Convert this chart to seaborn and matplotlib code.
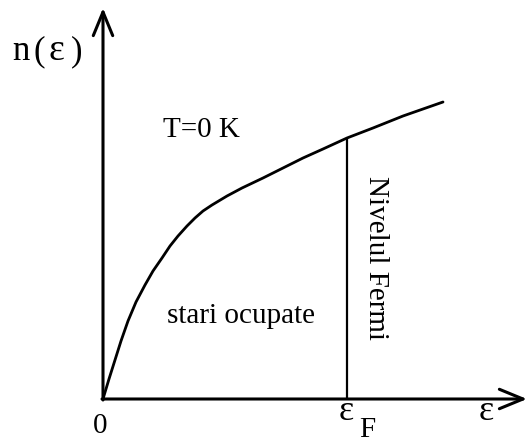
import numpy as np
import pandas as pd
import seaborn as sns
import matplotlib
matplotlib.use("Agg")
import matplotlib.pyplot as plt

# Density of occupied states n(eps) at T = 0 K (arbitrary units)
eps = [0, 6, 12, 18, 25, 33, 42, 50, 59, 67, 75, 84, 92, 100, 109, 124, 139,
       160, 180, 200, 220, 244, 270, 300, 340]
n_eps = [0, 20, 39, 58, 78, 97, 114, 128, 141, 153, 163, 173, 181, 188, 194,
         203, 211, 221, 231, 241, 250, 261, 271, 283, 297]
eps_F = 244
n_F = 261
x_max = 424
y_max = 391

labels = {
    "yaxis_n": "n",
    "yaxis_open": "(",
    "yaxis_eps": "ε",
    "yaxis_close": ")",
    "temp": "T=0 K",
    "occupied": "stari ocupate",
    "fermi": "Nivelul Fermi",
    "zero": "0",
    "epsF": "ε",
    "epsF_sub": "F",
    "xaxis": "ε",
}

sns.set_theme(style="white")
plt.rcParams["font.family"] = ["Liberation Serif", "DejaVu Serif"]
plt.rcParams["text.color"] = "black"

fig = plt.figure(figsize=(5.28, 4.43), dpi=100)
ax = fig.add_axes([0, 0, 1, 1])
ax.set_xlim(-103, 425)
ax.set_ylim(-44, 399)
ax.axis("off")

df = pd.DataFrame({"eps": eps, "n": n_eps})
sns.lineplot(data=df, x="eps", y="n", sort=False, estimator=None,
             color="black", lw=2.0, ax=ax)

ax.plot([eps_F, eps_F], [0, n_F], color="black", lw=1.6, solid_capstyle="butt")

arrow = dict(arrowstyle="->,head_length=1.7,head_width=0.7", lw=2.2,
             color="black", mutation_scale=10, shrinkA=0, shrinkB=0)
ax.annotate("", xy=(x_max, 0), xytext=(-1, 0), arrowprops=arrow)
ax.annotate("", xy=(0, y_max), xytext=(0, -1), arrowprops=arrow)

fs = 21
k = dict(color="black", va="baseline", ha="center")
ax.text(-82, 339, labels["yaxis_n"], fontsize=25, **k)
ax.text(-64, 339, labels["yaxis_open"], fontsize=25, **k)
ax.text(-47, 339, labels["yaxis_eps"], fontsize=27, **k)
ax.text(-26, 339, labels["yaxis_close"], fontsize=25, **k)
ax.text(60, 262, labels["temp"], fontsize=fs, color="black", ha="left", va="baseline")
ax.text(64, 76, labels["occupied"], fontsize=fs, color="black", ha="left", va="baseline")
ax.text(273, 141, labels["fermi"], fontsize=fs, color="black", ha="center",
        va="center", rotation=-90)
ax.text(-3, -34, labels["zero"], fontsize=fs, **k)
ax.text(243, -21, labels["epsF"], fontsize=26, **k)
ax.text(264, -38, labels["epsF_sub"], fontsize=fs, **k)
ax.text(383, -21, labels["xaxis"], fontsize=26, **k)

fig.savefig("out.png", dpi=100)
